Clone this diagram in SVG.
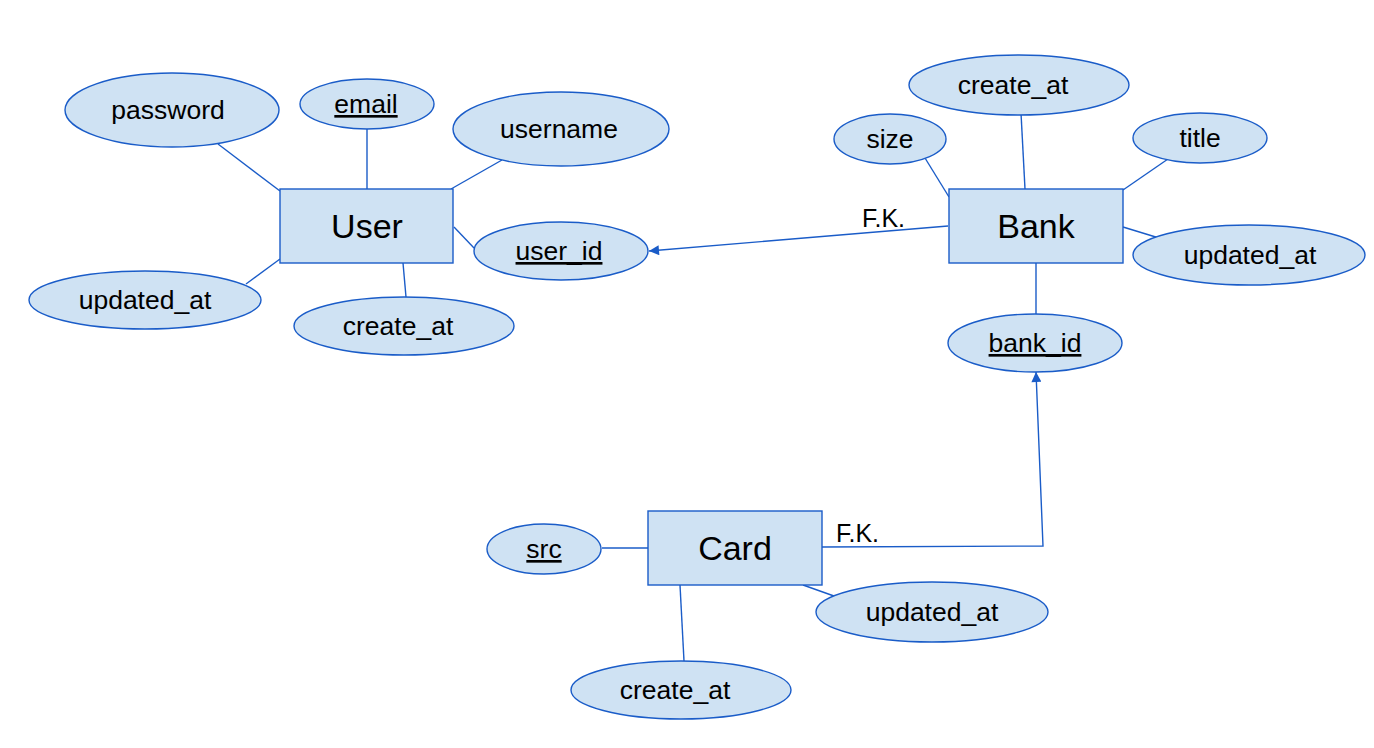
<svg xmlns="http://www.w3.org/2000/svg" width="1374" height="748" viewBox="0 0 1374 748">
<defs>
<style>
.ent rect{fill:#cfe2f3;stroke:#1a5cc8;stroke-width:1.4}
.att ellipse{fill:#cfe2f3;stroke:#1a5cc8;stroke-width:1.4}
text{font-family:"Liberation Sans",Arial,sans-serif;fill:#000;text-anchor:middle}
.att text{font-size:26.5px}
.ent text{font-size:34px}
.u{text-decoration:underline}
#connectors line,#connectors polyline{stroke:#1a5cc8;stroke-width:1.4;fill:none}
.fk{font-size:25px;text-anchor:start}
</style>
<marker id="arr" viewBox="0 0 10 10" refX="10" refY="5" markerWidth="11" markerHeight="10" markerUnits="userSpaceOnUse" orient="auto">
<path d="M0,0 L10,5 L0,10 z" fill="#1a5cc8"/>
</marker>
</defs>
<rect width="1374" height="748" fill="#fff"/>
<g id="connectors">
<line x1="218" y1="144" x2="280" y2="191"/>
<line x1="367" y1="129" x2="367" y2="189"/>
<line x1="502" y1="160" x2="451" y2="189"/>
<line x1="454" y1="227" x2="474" y2="248"/>
<line x1="246" y1="284" x2="280" y2="259"/>
<line x1="403" y1="263" x2="406" y2="297"/>
<line x1="925" y1="158" x2="949" y2="197"/>
<line x1="1021" y1="113" x2="1025" y2="189"/>
<line x1="1168" y1="159" x2="1123" y2="190"/>
<line x1="1123" y1="227" x2="1159" y2="238"/>
<line x1="1036" y1="263" x2="1036" y2="314"/>
<line x1="602" y1="548" x2="649" y2="548"/>
<line x1="680" y1="585" x2="684" y2="661"/>
<line x1="803" y1="585" x2="834" y2="596"/>
<line x1="948" y1="226" x2="649" y2="251" marker-end="url(#arr)"/>
<polyline points="822,547 1043,546 1036,372" marker-end="url(#arr)"/>
<text class="fk" x="862" y="227">F.K.</text>
<text class="fk" x="836" y="542">F.K.</text>
</g>
<g id="user" class="ent"><rect x="280" y="189" width="173" height="74"/><text x="367" y="238">User</text></g>
<g id="bank" class="ent"><rect x="949" y="189" width="174" height="74"/><text x="1036" y="238">Bank</text></g>
<g id="card" class="ent"><rect x="648" y="511" width="174" height="74"/><text x="735" y="560">Card</text></g>
<g id="user-password" class="att"><ellipse cx="172" cy="110" rx="107" ry="37"/><text x="168" y="119">password</text></g>
<g id="user-email" class="att"><ellipse cx="367" cy="104" rx="67" ry="25"/><text class="u" x="366" y="113">email</text></g>
<g id="user-username" class="att"><ellipse cx="561" cy="129" rx="108" ry="37"/><text x="559" y="138">username</text></g>
<g id="user-user_id" class="att"><ellipse cx="561" cy="251" rx="87" ry="29"/><text class="u" x="559" y="260">user_id</text></g>
<g id="user-updated_at" class="att"><ellipse cx="145" cy="300" rx="116" ry="29"/><text x="145" y="309">updated_at</text></g>
<g id="user-create_at" class="att"><ellipse cx="404" cy="326" rx="110" ry="29"/><text x="398" y="335">create_at</text></g>
<g id="bank-create_at" class="att"><ellipse cx="1019" cy="85" rx="110" ry="30"/><text x="1013" y="94">create_at</text></g>
<g id="bank-size" class="att"><ellipse cx="890" cy="139" rx="56" ry="25"/><text x="890" y="148">size</text></g>
<g id="bank-title" class="att"><ellipse cx="1200" cy="138" rx="67" ry="25"/><text x="1200" y="147">title</text></g>
<g id="bank-updated_at" class="att"><ellipse cx="1249" cy="255" rx="116" ry="30"/><text x="1250" y="264">updated_at</text></g>
<g id="bank-bank_id" class="att"><ellipse cx="1035" cy="343" rx="87" ry="29"/><text class="u" x="1035" y="352">bank_id</text></g>
<g id="card-src" class="att"><ellipse cx="544" cy="549" rx="57" ry="25"/><text class="u" x="544" y="558">src</text></g>
<g id="card-updated_at" class="att"><ellipse cx="932" cy="612" rx="116" ry="30"/><text x="932" y="621">updated_at</text></g>
<g id="card-create_at" class="att"><ellipse cx="681" cy="690" rx="110" ry="29"/><text x="675" y="699">create_at</text></g>
</svg>
